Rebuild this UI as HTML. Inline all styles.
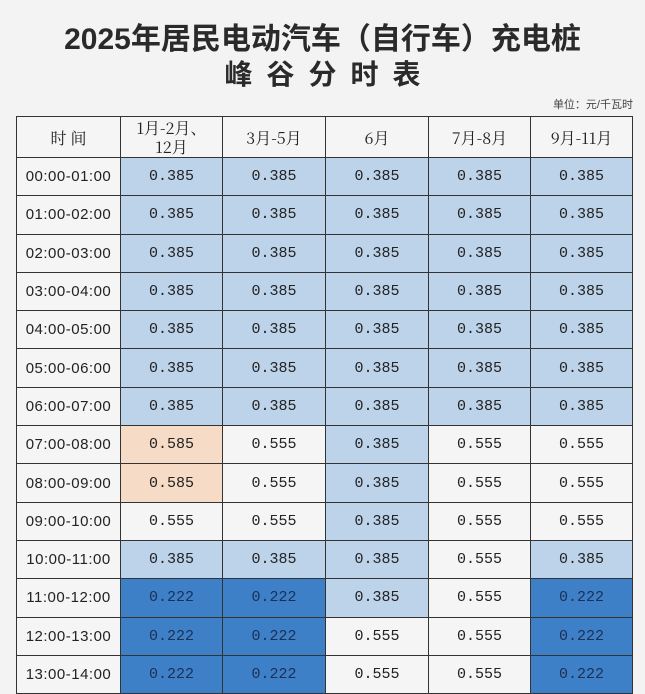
<!DOCTYPE html>
<html><head><meta charset="utf-8"><style>
html,body{margin:0;padding:0;width:645px;height:693px;overflow:hidden;background:#f3f3f3;font-family:"Liberation Sans","Noto Sans CJK SC",sans-serif;}
.t1{position:absolute;top:14px;left:0;width:645px;text-align:center;font-size:30px;font-weight:bold;color:#2a2a2a;}
.t2{position:absolute;top:53px;left:0;width:645px;text-align:center;font-size:28px;font-weight:bold;color:#2a2a2a;letter-spacing:14px;text-indent:14px;}
.unit{position:absolute;top:96px;right:12px;font-size:11px;color:#444;}
table{position:absolute;left:16px;top:116px;border-collapse:collapse;table-layout:fixed;}
td{border:1.3px solid #333;text-align:center;font-family:"Liberation Mono","Noto Serif CJK SC",monospace;font-size:15px;color:#222;height:37.3px;padding:0;background:#f5f5f5;}
tr.h td{height:40px;font-family:"Noto Serif CJK SC",serif;font-size:16px;line-height:19px;}
.b{background:#bdd3ea}.d{background:#3d80c7;color:#1c2f55}.p{background:#f6dcc7}
td.tm{font-family:"Liberation Sans",sans-serif;font-size:15px;letter-spacing:0.5px}
</style></head><body>
<div class="t1">2025年居民电动汽车（自行车）充电桩</div>
<div class="t2">峰谷分时表</div>
<div class="unit">单位：元/千瓦时</div>
<table>
<colgroup><col style="width:104px"><col style="width:102px"><col style="width:103px"><col style="width:103px"><col style="width:102px"><col style="width:102px"></colgroup>
<tr class="h"><td>时 间</td><td>1月-2月、<br>12月</td><td>3月-5月</td><td>6月</td><td>7月-8月</td><td>9月-11月</td></tr>
<tr><td class="tm">00:00-01:00</td><td class="b">0.385</td><td class="b">0.385</td><td class="b">0.385</td><td class="b">0.385</td><td class="b">0.385</td></tr>
<tr><td class="tm">01:00-02:00</td><td class="b">0.385</td><td class="b">0.385</td><td class="b">0.385</td><td class="b">0.385</td><td class="b">0.385</td></tr>
<tr><td class="tm">02:00-03:00</td><td class="b">0.385</td><td class="b">0.385</td><td class="b">0.385</td><td class="b">0.385</td><td class="b">0.385</td></tr>
<tr><td class="tm">03:00-04:00</td><td class="b">0.385</td><td class="b">0.385</td><td class="b">0.385</td><td class="b">0.385</td><td class="b">0.385</td></tr>
<tr><td class="tm">04:00-05:00</td><td class="b">0.385</td><td class="b">0.385</td><td class="b">0.385</td><td class="b">0.385</td><td class="b">0.385</td></tr>
<tr><td class="tm">05:00-06:00</td><td class="b">0.385</td><td class="b">0.385</td><td class="b">0.385</td><td class="b">0.385</td><td class="b">0.385</td></tr>
<tr><td class="tm">06:00-07:00</td><td class="b">0.385</td><td class="b">0.385</td><td class="b">0.385</td><td class="b">0.385</td><td class="b">0.385</td></tr>
<tr><td class="tm">07:00-08:00</td><td class="p">0.585</td><td>0.555</td><td class="b">0.385</td><td>0.555</td><td>0.555</td></tr>
<tr><td class="tm">08:00-09:00</td><td class="p">0.585</td><td>0.555</td><td class="b">0.385</td><td>0.555</td><td>0.555</td></tr>
<tr><td class="tm">09:00-10:00</td><td>0.555</td><td>0.555</td><td class="b">0.385</td><td>0.555</td><td>0.555</td></tr>
<tr><td class="tm">10:00-11:00</td><td class="b">0.385</td><td class="b">0.385</td><td class="b">0.385</td><td>0.555</td><td class="b">0.385</td></tr>
<tr><td class="tm">11:00-12:00</td><td class="d">0.222</td><td class="d">0.222</td><td class="b">0.385</td><td>0.555</td><td class="d">0.222</td></tr>
<tr><td class="tm">12:00-13:00</td><td class="d">0.222</td><td class="d">0.222</td><td>0.555</td><td>0.555</td><td class="d">0.222</td></tr>
<tr><td class="tm">13:00-14:00</td><td class="d">0.222</td><td class="d">0.222</td><td>0.555</td><td>0.555</td><td class="d">0.222</td></tr>
</table>
</body></html>
